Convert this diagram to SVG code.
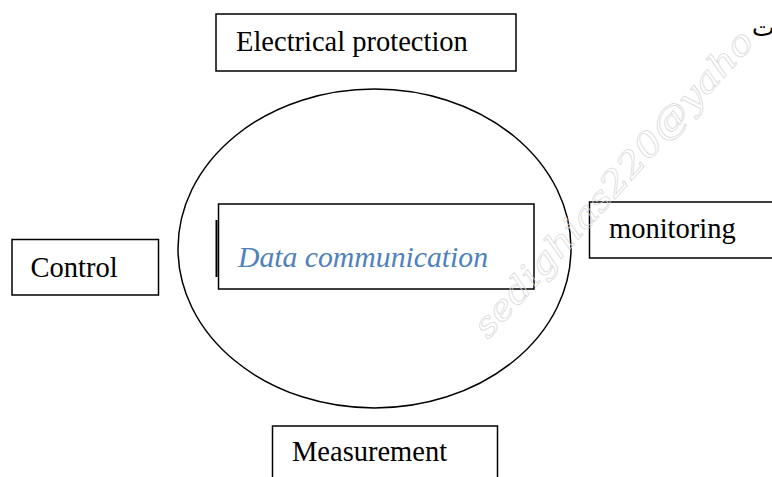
<svg xmlns="http://www.w3.org/2000/svg" width="772" height="477" viewBox="0 0 772 477">
  <style>
    .box { fill: #ffffff; stroke: #000000; stroke-width: 1.5; }
    .ring { fill: none; stroke: #000000; stroke-width: 1.5; }
    .label { font-family: "Liberation Serif", "Times New Roman", serif; font-size: 28.5px; fill: #000000; }
    .core { font-family: "Liberation Serif", "Times New Roman", serif; font-style: italic; font-size: 29px; fill: #4F81BD; }
    .mark { font-family: "DejaVu Serif", serif; font-style: italic; font-size: 34px; fill: none; stroke: #d8d8d8; stroke-width: 0.7; }
    .script { font-family: "DejaVu Sans", "Noto Sans", sans-serif; font-size: 24px; fill: #000000; }
  </style>

  <rect x="0" y="0" width="772" height="477" fill="#ffffff"/>

  <!-- central hub -->
  <g id="hub">
    <ellipse class="ring" cx="374.5" cy="248.5" rx="196.5" ry="159.5"/>
  </g>

  <g id="data-communication">
    <rect class="box" x="218.5" y="204" width="315.5" height="85"/>
    <line x1="216.5" y1="220" x2="216.5" y2="277" stroke="#000000" stroke-width="2"/>
    <text class="core" x="238" y="266.5" textLength="250" lengthAdjust="spacingAndGlyphs">Data communication</text>
  </g>

  <g id="electrical-protection">
    <rect class="box" x="216" y="14" width="300" height="57"/>
    <text class="label" x="236" y="51">Electrical protection</text>
  </g>

  <g id="control">
    <rect class="box" x="12" y="239.5" width="146.5" height="55.5"/>
    <text class="label" x="30.5" y="276.5">Control</text>
  </g>

  <g id="monitoring">
    <rect class="box" x="589.5" y="202" width="190" height="56"/>
    <text class="label" x="609" y="237.5">monitoring</text>
  </g>

  <g id="measurement">
    <rect class="box" x="272.5" y="426" width="225" height="60"/>
    <text class="label" x="292" y="461">Measurement</text>
  </g>

  <g id="connectors"/>

  <!-- page fragment at the top-right edge -->
  <text class="script" x="752" y="36">ت</text>

  <!-- watermark over everything -->
  <text class="mark" x="0" y="0" textLength="400" lengthAdjust="spacingAndGlyphs" transform="translate(488,340) rotate(-48)">sedighias220@yaho</text>
</svg>
